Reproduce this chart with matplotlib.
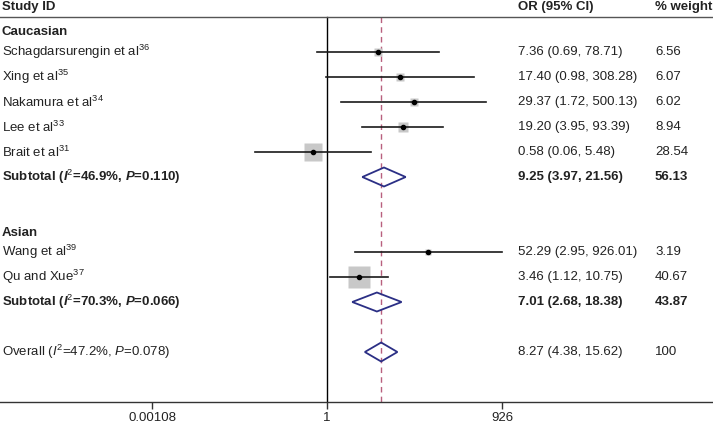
import numpy as np
import matplotlib
matplotlib.use("Agg")
import matplotlib.pyplot as plt
import matplotlib.transforms as mtransforms
from matplotlib.patches import Polygon

plt.rcParams["font.family"] = "Liberation Sans"
plt.rcParams["mathtext.fontset"] = "custom"
plt.rcParams["mathtext.rm"] = "Liberation Sans"
plt.rcParams["mathtext.it"] = "Liberation Sans:italic"
plt.rcParams["mathtext.bf"] = "Liberation Sans:bold"
plt.rcParams["mathtext.bfit"] = "Liberation Sans:italic:bold"
plt.rcParams["text.color"] = "#222222"

# --- data ---
studies = ["Schagdarsurengin et al$^{36}$", "Xing et al$^{35}$", "Nakamura et al$^{34}$",
           "Lee et al$^{33}$", "Brait et al$^{31}$", "Wang et al$^{39}$", "Qu and Xue$^{37}$"]
study_rows = [1, 2, 3, 4, 5, 9, 10]
study_or = [7.36, 17.40, 29.37, 19.20, 0.58, 52.29, 3.46]
study_lo = [0.69, 0.98, 1.72, 3.95, 0.06, 2.95, 1.12]
study_hi = [78.71, 308.28, 500.13, 93.39, 5.48, 926.01, 10.75]
study_w = ["6.56", "6.07", "6.02", "8.94", "28.54", "3.19", "40.67"]

groups = ["Caucasian", "Asian"]
group_rows = [0, 8]

pooled = [r"Subtotal ($\mathbfit{I}^{2}$=46.9%, $\mathbfit{P}$=0.110)",
          r"Subtotal ($\mathbfit{I}^{2}$=70.3%, $\mathbfit{P}$=0.066)",
          r"Overall ($\mathit{I}^{2}$=47.2%, $\mathit{P}$=0.078)"]
pooled_rows = [6, 11, 13]
pooled_or = [9.25, 7.01, 8.27]
pooled_lo = [3.97, 2.68, 4.38]
pooled_hi = [21.56, 18.38, 15.62]
pooled_w = ["56.13", "43.87", "100"]
pooled_bold = [True, True, False]

ticks = [0.00108, 1, 926]
tick_labels = ["0.00108", "1", "926"]

FS = 9.5
navy = "#2B2F85"

fig = plt.figure(figsize=(7.13, 4.25), dpi=100)
ax = fig.add_axes([0, 23 / 425, 1, 402 / 425])
ax.set_xscale("log")
ppl = 350 / (2 * np.log(926))  # pixels per ln unit
ax.set_xlim(np.exp(-327 / ppl), np.exp((713 - 327) / ppl))
ax.set_ylim(15.0, -1.08)

for s in ["top", "left", "right"]:
    ax.spines[s].set_visible(False)
ax.spines["bottom"].set_color("#333333")
ax.spines["bottom"].set_linewidth(1.0)
ax.set_yticks([])
ax.set_xticks(ticks)
ax.set_xticklabels(tick_labels, fontsize=FS, color="#222222")
ax.minorticks_off()
ax.tick_params(axis="x", length=5, width=1.0, color="#333333", pad=2)

# reference lines
ax.axhline(-0.4, color="#555555", lw=1.0)
ax.plot([1, 1], [-0.4, 15.0], color="black", lw=1.0, zorder=1)
ax.plot([pooled_or[-1]] * 2, [-0.4, 15.0], color="#B8607E", lw=1.0,
        dashes=(4, 3), zorder=1)

# studies
for r, o, lo, hi in zip(study_rows, study_or, study_lo, study_hi):
    ax.plot([lo, hi], [r, r], color="#1a1a1a", lw=1.2, zorder=3)
for r, o, w in zip(study_rows, study_or, study_w):
    ax.plot(o, r, marker="s", ms=2.43 * np.sqrt(float(w)), color="#C8C8C8",
            mec="none", zorder=2)
    ax.plot(o, r, marker="o", ms=3.0, color="black", zorder=4)

# pooled diamonds
h = 0.38
for r, o, lo, hi in zip(pooled_rows, pooled_or, pooled_lo, pooled_hi):
    ax.add_patch(Polygon([[lo, r], [o, r - h], [hi, r], [o, r + h]], closed=True,
                         fill=False, ec=navy, lw=1.3, zorder=3))

# text columns
tr = mtransforms.blended_transform_factory(ax.transAxes, ax.transData)
x_lab, x_or, x_w = 2 / 713, 518 / 713, 655 / 713

ax.text(x_lab, -0.8, "Study ID", transform=tr, fontsize=FS, weight="bold", va="center")
ax.text(x_or, -0.8, "OR (95% CI)", transform=tr, fontsize=FS, weight="bold", va="center")
ax.text(x_w, -0.8, "% weight", transform=tr, fontsize=FS, weight="bold", va="center")

for g, r in zip(groups, group_rows):
    ax.text(x_lab, r + 0.22, g, transform=tr, fontsize=FS, weight="bold", va="center")

for lab, r, o, lo, hi, w in zip(studies, study_rows, study_or, study_lo, study_hi, study_w):
    ax.text(x_lab, r, lab, transform=tr, fontsize=FS, va="center")
    ax.text(x_or, r, f"{o:.2f} ({lo:.2f}, {hi:.2f})", transform=tr, fontsize=FS, va="center")
    ax.text(x_w, r, w, transform=tr, fontsize=FS, va="center")

for lab, r, o, lo, hi, w, b in zip(pooled, pooled_rows, pooled_or, pooled_lo, pooled_hi,
                                   pooled_w, pooled_bold):
    wt = "bold" if b else "normal"
    ax.text(x_lab, r, lab, transform=tr, fontsize=FS, weight=wt, va="center")
    ax.text(x_or, r, f"{o:.2f} ({lo:.2f}, {hi:.2f})", transform=tr, fontsize=FS,
            weight=wt, va="center")
    ax.text(x_w, r, w, transform=tr, fontsize=FS, weight=wt, va="center")

fig.savefig("out.png", dpi=100)
